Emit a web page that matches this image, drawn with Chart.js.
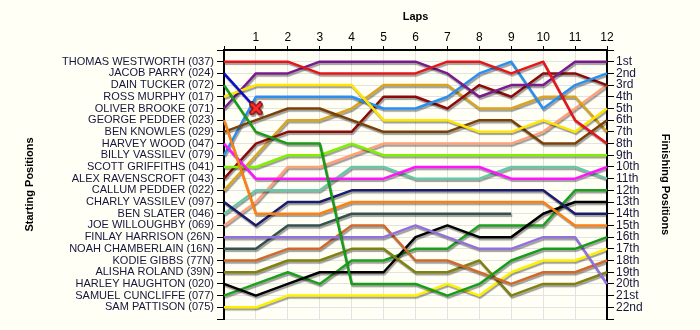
<!DOCTYPE html>
<html>
<head>
<meta charset="utf-8">
<script src="https://cdn.jsdelivr.net/npm/chart.js@4"></script>
<style>
  body { margin: 0; background: #fffff6; }
  #wrap { width: 700px; height: 330px; }
</style>
</head>
<body>
<div id="wrap"><canvas id="lapChart" width="700" height="330"></canvas></div>
<script>
// lap numbers shown along the top (lap 0 = grid, no label)
const lapLabels = ['', '1', '2', '3', '4', '5', '6', '7', '8', '9', '10', '11', '12'];

const startNames = ['THOMAS WESTWORTH (037)', 'JACOB PARRY (024)', 'DAIN TUCKER (072)', 'ROSS MURPHY (017)',
  'OLIVER BROOKE (071)', 'GEORGE PEDDER (023)', 'BEN KNOWLES (029)', 'HARVEY WOOD (047)', 'BILLY VASSILEV (079)',
  'SCOTT GRIFFITHS (041)', 'ALEX RAVENSCROFT (043)', 'CALLUM PEDDER (022)', 'CHARLY VASSILEV (097)',
  'BEN SLATER (046)', 'JOE WILLOUGHBY (069)', 'FINLAY HARRISON (26N)', 'NOAH CHAMBERLAIN (16N)',
  'KODIE GIBBS (77N)', 'ALISHA ROLAND (39N)', 'HARLEY HAUGHTON (020)', 'SAMUEL CUNCLIFFE (077)', 'SAM PATTISON (075)'];

const finishLabels = ['1st', '2nd', '3rd', '4th', '5th', '6th', '7th', '8th', '9th', '10th', '11th',
  '12th', '13th', '14th', '15th', '16th', '17th', '18th', '19th', '20th', '21st', '22nd'];

// position of each driver at the end of every lap (index 0 = start)
const westworth   = [1, 1, 1, 2, 2, 2, 2, 1, 1, 2, 1, 6, 8];
const parry       = [2, 5];
const tucker      = [3, 7, 8, 8, 20, 20, 20, 21, 20, 18, 17, 17, 16];
const murphy      = [4, 3, 3, 3, 3, 6, 6, 6, 7, 7, 6, 7, 5];
const brooke      = [5, 2, 2, 1, 1, 1, 1, 2, 4, 3, 3, 1, 1];
const gPedder     = [6, 14, 14, 14, 13, 13, 13, 13, 13, 13, 13, 15, 15];
const knowles     = [7, 6, 5, 5, 6, 7, 7, 7, 6, 6, 8, 8, 6];
const wood        = [8, 11, 11, 11, 11, 11, 10, 10, 10, 11, 11, 11, 10];
const bVassilev   = [9, 4, 4, 4, 4, 5, 5, 4, 2, 1, 5, 3, 2];
const griffiths   = [10, 10, 9, 9, 8, 9, 9, 9, 9, 9, 9, 9, 9];
const ravenscroft = [11, 8, 7, 7, 7, 4, 4, 5, 3, 4, 2, 2, 3];
const cPedder     = [12, 9, 6, 6, 5, 3, 3, 3, 5, 5, 4, 4, 7];
const cVassilev   = [13, 15, 13, 13, 12, 12, 12, 12, 12, 12, 12, 14, 14];
const slater      = [14, 12, 12, 12, 10, 10, 11, 11, 11, 10, 10, 10, 11];
const willoughby  = [15, 13, 10, 10, 9, 8, 8, 8, 8, 8, 7, 5, 3];
const harrison    = [16, 16, 16, 16, 16, 16, 15, 16, 17, 17, 16, 16, 20];
const chamberlain = [17, 17, 15, 15, 14, 14, 14, 14, 14, 14];
const gibbs       = [18, 18, 17, 17, 15, 15, 18, 18, 19, 20, 19, 19, 18];
const roland      = [19, 19, 18, 18, 17, 17, 19, 19, 18, 21, 20, 20, 19];
const haughton    = [20, 21, 20, 19, 19, 19, 16, 15, 16, 16, 14, 13, 13];
const cuncliffe   = [21, 20, 19, 20, 18, 18, 17, 17, 15, 15, 15, 12, 12];
const pattison    = [22, 22, 21, 21, 21, 21, 21, 20, 21, 19, 18, 18, 17];

const driverRows = [westworth, parry, tucker, murphy, brooke, gPedder, knowles, wood, bVassilev, griffiths,
  ravenscroft, cPedder, cVassilev, slater, willoughby, harrison, chamberlain, gibbs, roland, haughton,
  cuncliffe, pattison];

const lineColours = ['#e8141c', '#0a0acc', '#169c16', '#ffe600', '#7a1a8c', '#ff8010', '#7b4008', '#ff14ff',
  '#2b8ff0', '#80f000', '#8c0a0a', '#d9a520', '#1c1c6e', '#66c8a8', '#ffa07a', '#9370db', '#35504f',
  '#cf6a2c', '#808010', '#000000', '#1ea01e', '#fff000'];

// retired marker (red cross)
const crossMark = document.createElement('canvas');
crossMark.width = 14;
crossMark.height = 14;
(function () {
  const c = crossMark.getContext('2d');
  c.lineCap = 'round';
  c.strokeStyle = '#7a0f0f';
  c.lineWidth = 5.5;
  c.beginPath(); c.moveTo(3, 3); c.lineTo(11, 11); c.moveTo(11, 3); c.lineTo(3, 11); c.stroke();
  c.strokeStyle = '#ff2a2a';
  c.lineWidth = 3;
  c.beginPath(); c.moveTo(3, 3); c.lineTo(11, 11); c.moveTo(11, 3); c.lineTo(3, 11); c.stroke();
})();

const datasets = driverRows.map((rows, i) => ({
  label: startNames[i],
  data: rows,
  borderColor: lineColours[i],
  backgroundColor: lineColours[i],
  borderWidth: 2.5,
  borderJoinStyle: 'round',
  tension: 0,
  pointRadius: rows === parry ? [0, 6] : 0,
  pointHoverRadius: 0,
  pointStyle: crossMark
}));

const lineShadow = {
  id: 'lineShadow',
  beforeDatasetDraw(chart) {
    const c = chart.ctx;
    c.save();
    c.shadowColor = 'rgba(0,0,0,0.38)';
    c.shadowOffsetX = 1;
    c.shadowOffsetY = 2;
    c.shadowBlur = 1;
  },
  afterDatasetDraw(chart) {
    chart.ctx.restore();
  }
};

Chart.defaults.font.family = 'Arial, "Liberation Sans", sans-serif';
Chart.defaults.font.size = 11;
Chart.defaults.color = '#15153d';

const ctx = document.getElementById('lapChart');

new Chart(ctx, {
  type: 'line',
  data: {
    labels: lapLabels,
    datasets: datasets
  },
  plugins: [lineShadow],
  options: {
    responsive: false,
    animation: false,
    layout: { padding: { left: 0, right: 0, top: 0, bottom: 11 } },
    plugins: {
      legend: { display: false },
      tooltip: { enabled: false }
    },
    scales: {
      x: {
        position: 'top',
        offset: false,
        afterFit: (s) => { s.height = 50; },
        title: { display: true, text: 'Laps', color: '#000', font: { weight: 'bold', size: 11 }, padding: { top: 10, bottom: 0 } },
        grid: { color: '#e3e3e3', tickColor: '#000', tickLength: 4, offset: false },
        border: { color: '#000', width: 2 },
        ticks: { color: '#000', padding: 1, maxRotation: 0, autoSkip: false, font: { size: 12 } }
      },
      y: {
        position: 'left',
        reverse: true,
        min: 0,
        max: 23,
        afterFit: (s) => { s.width = 224; },
        title: { display: true, text: 'Starting Positions', color: '#000', font: { weight: 'bold', size: 11 }, padding: { top: 23, bottom: 0 } },
        grid: { color: '#e3e3e3', tickColor: '#000', tickLength: 7 },
        border: { color: '#000', width: 2 },
        ticks: {
          stepSize: 1,
          autoSkip: false,
          padding: 3,
          callback: (v) => startNames[v - 1] || ''
        }
      },
      y2: {
        position: 'right',
        reverse: true,
        min: 0,
        max: 23,
        afterFit: (s) => { s.width = 93; },
        title: { display: true, text: 'Finishing Positions', color: '#000', font: { weight: 'bold', size: 11 }, padding: { top: 28, bottom: 0 } },
        grid: { drawOnChartArea: false, tickColor: '#000', tickLength: 7 },
        border: { color: '#000', width: 2 },
        ticks: {
          stepSize: 1,
          autoSkip: false,
          padding: 2,
          font: { size: 12 },
          callback: (v) => finishLabels[v - 1] || ''
        }
      }
    }
  }
});
</script>
</body>
</html>
